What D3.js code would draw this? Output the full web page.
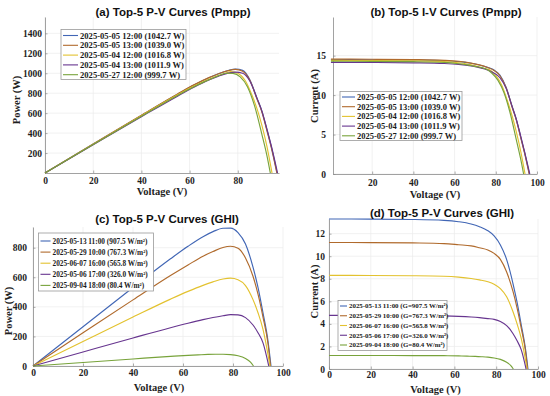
<!DOCTYPE html>
<html>
<head>
<meta charset="utf-8">
<script src="https://cdn.jsdelivr.net/npm/d3@7"></script>
<style>
  body { margin: 0; background: #fff; }
  svg { display: block; }
</style>
</head>
<body>
<svg id="chart" width="550" height="396"></svg>
<script>
// Top-5 curves by Pmpp (panels a, b)
const pmppLabels = [
    "2025-05-05 12:00 (1042.7 W)",
    "2025-05-05 13:00 (1039.0 W)",
    "2025-05-04 12:00 (1016.8 W)",
    "2025-05-04 13:00 (1011.9 W)",
    "2025-05-27 12:00 (999.7 W)"
];
const pmppVoltage = [
    [0, 20, 40, 55, 62, 68, 72, 76, 79, 82, 85, 88, 90, 92, 94, 96.3],
    [0, 20, 40, 55, 62, 68, 72, 76, 79, 82, 85, 88, 90, 92, 94, 96.2],
    [0, 20, 40, 55, 62, 66, 70, 74, 77, 80, 83, 86, 88, 90, 92, 94.2],
    [0, 20, 40, 55, 62, 68, 72, 76, 79, 82, 85, 88, 90, 92, 94, 96.5],
    [0, 20, 40, 55, 62, 66, 70, 73, 75, 78, 81, 84, 87, 90, 92, 93.5]
];
const pmppPower = [
    [0, 289.6, 577.6, 789.8, 883.5, 954.7, 995.0, 1027.5, 1042.8, 1029.1, 935.0, 748.0, 621.0, 441.6, 253.8, 0],
    [0, 290.8, 580.0, 792.6, 886.0, 956.1, 995.8, 1026.0, 1038.9, 1020.9, 930.8, 739.2, 612.0, 432.4, 244.4, 0],
    [0, 287.6, 573.6, 783.8, 874.2, 920.7, 960.4, 991.6, 1016.4, 1000.0, 929.6, 774.0, 642.4, 477.0, 276.0, 0],
    [0, 282.6, 563.6, 770.6, 861.8, 931.6, 970.6, 1001.7, 1012.0, 1000.4, 922.3, 748.0, 621.0, 450.8, 263.2, 0],
    [0, 285.6, 569.6, 777.7, 866.8, 913.4, 954.8, 985.5, 999.8, 998.4, 963.9, 865.2, 669.9, 387.0, 184.0, 0]
];
const pmppCurrent = [
    [14.50, 14.48, 14.44, 14.36, 14.25, 14.04, 13.82, 13.52, 13.20, 12.55, 11.00, 8.50, 6.90, 4.80, 2.70, 0],
    [14.56, 14.54, 14.50, 14.41, 14.29, 14.06, 13.83, 13.50, 13.15, 12.45, 10.95, 8.40, 6.80, 4.70, 2.60, 0],
    [14.40, 14.38, 14.34, 14.25, 14.10, 13.95, 13.72, 13.40, 13.20, 12.50, 11.20, 9.00, 7.30, 5.30, 3.00, 0],
    [14.15, 14.13, 14.09, 14.01, 13.90, 13.70, 13.48, 13.18, 12.81, 12.20, 10.85, 8.50, 6.90, 4.90, 2.80, 0],
    [14.30, 14.28, 14.24, 14.14, 13.98, 13.84, 13.64, 13.50, 13.33, 12.80, 11.90, 10.30, 7.70, 4.30, 2.00, 0]
];

// Top-5 curves by GHI (panels c, d)
const ghiLabels = [
    "2025-05-13 11:00 (907.5 W/m²)",
    "2025-05-29 10:00 (767.3 W/m²)",
    "2025-06-07 16:00 (565.8 W/m²)",
    "2025-05-06 17:00 (326.0 W/m²)",
    "2025-09-04 18:00 (80.4 W/m²)"
];
const ghiLabelsG = [
    "2025-05-13 11:00 (G=907.5 W/m²)",
    "2025-05-29 10:00 (G=767.3 W/m²)",
    "2025-06-07 16:00 (G=565.8 W/m²)",
    "2025-05-06 17:00 (G=326.0 W/m²)",
    "2025-09-04 18:00 (G=80.4 W/m²)"
];
const ghiVoltage = [
    [0, 20, 40, 55, 62, 68, 72, 76, 79, 82, 85, 88, 90, 92, 94, 95.2],
    [0, 20, 40, 55, 62, 68, 72, 76, 79, 82, 85, 88, 90, 92, 94, 95.0],
    [0, 20, 40, 55, 62, 68, 72, 76, 79, 82, 85, 88, 90, 92, 94.8],
    [0, 20, 40, 55, 62, 68, 72, 76, 79, 82, 85, 88, 90, 92, 94.3],
    [0, 20, 40, 55, 62, 66, 70, 73, 76, 79, 82, 85, 87, 88.2]
];
const ghiPower = [
    [0, 265.8, 530.4, 724.9, 809.7, 874.5, 908.6, 931.8, 932.2, 902.0, 824.5, 668.8, 531.0, 358.8, 169.2, 0],
    [0, 224.2, 447.2, 611.6, 683.2, 742.6, 774.0, 801.8, 809.8, 797.0, 731.0, 607.2, 486.0, 331.2, 150.4, 0],
    [0, 165.8, 330.8, 452.1, 504.7, 545.4, 568.8, 588.2, 594.1, 583.8, 544.0, 448.8, 360.0, 248.4, 0],
    [0, 95.0, 189.6, 259.1, 289.5, 313.5, 327.6, 339.7, 347.6, 346.0, 327.3, 277.2, 225.0, 156.4, 0],
    [0, 24.0, 47.6, 64.9, 71.9, 75.2, 78.4, 79.6, 79.8, 77.4, 69.7, 51.0, 26.1, 0]
];
const ghiCurrent = [
    [13.30, 13.29, 13.26, 13.18, 13.06, 12.86, 12.62, 12.26, 11.80, 11.00, 9.70, 7.60, 5.90, 3.90, 1.80, 0],
    [11.22, 11.21, 11.18, 11.12, 11.02, 10.92, 10.75, 10.55, 10.25, 9.72, 8.60, 6.90, 5.40, 3.60, 1.60, 0],
    [8.30, 8.29, 8.27, 8.22, 8.14, 8.02, 7.90, 7.74, 7.52, 7.12, 6.40, 5.10, 4.00, 2.70, 0],
    [4.76, 4.75, 4.74, 4.71, 4.67, 4.61, 4.55, 4.47, 4.40, 4.22, 3.85, 3.15, 2.50, 1.70, 0],
    [1.20, 1.20, 1.19, 1.18, 1.16, 1.14, 1.12, 1.09, 1.05, 0.98, 0.85, 0.60, 0.30, 0]
];

// tick values
const ticksVoltA = [0, 20, 40, 60, 80];
const ticksVoltB = [20, 40, 60, 80, 100];
const ticksVoltCD = [0, 20, 40, 60, 80, 100];
const ticksPowerA = [200, 400, 600, 800, 1000, 1200, 1400];
const ticksCurrentB = [0, 5, 10, 15];
const ticksPowerC = [0, 200, 400, 600, 800];
const ticksCurrentD = [0, 2, 4, 6, 8, 10, 12];

const colors = ["#4166b5", "#b06a2c", "#e3c22f", "#67358f", "#78a33b"];
const serif = "'Liberation Serif', 'Times New Roman', serif";
const sans = "'Liberation Sans', Arial, sans-serif";

const svg = d3.select("#chart");

function drawPanel(p) {
    const g = svg.append("g");
    const x = d3.scaleLinear().domain(p.xDomain).range(p.xRange);
    const y = d3.scaleLinear().domain(p.yDomain).range(p.yRange);

    // grid
    g.append("g").selectAll("line").data(p.xTicks).join("line")
        .attr("x1", d => x(d)).attr("x2", d => x(d))
        .attr("y1", p.yRange[0]).attr("y2", p.yRange[1])
        .attr("stroke", "#ebebeb").attr("stroke-width", 0.7);
    g.append("g").selectAll("line").data(p.yTicks).join("line")
        .attr("x1", p.xRange[0]).attr("x2", p.xRange[1])
        .attr("y1", d => y(d)).attr("y2", d => y(d))
        .attr("stroke", "#ebebeb").attr("stroke-width", 0.7);

    const xAxis = d3.axisBottom(x).tickValues(p.xTicks).tickFormat(d3.format("d"))
        .tickSizeInner(-2.5).tickSizeOuter(0).tickPadding(p.xPad);
    const yAxis = d3.axisLeft(y).tickValues(p.yTicks).tickFormat(d3.format("d"))
        .tickSizeInner(-2.5).tickSizeOuter(0).tickPadding(p.yPad);

    const xg = g.append("g").attr("transform", `translate(0,${p.yRange[0]})`).call(xAxis);
    const yg = g.append("g").attr("transform", `translate(${p.xRange[0]},0)`).call(yAxis);
    [xg, yg].forEach(a => {
        a.attr("font-family", serif).attr("font-size", 9);
        a.select(".domain").attr("stroke", "#8a8a8a").attr("stroke-width", 0.8);
        a.selectAll(".tick line").attr("stroke", "#8a8a8a").attr("stroke-width", 0.7);
        a.selectAll(".tick text")
            .attr("fill", "#1e1e1e")
            .style("font-family", serif)
            .style("font-weight", "bold")
            .style("font-size", "9.5px");
    });

    // curves
    const line = d3.line().curve(d3.curveMonotoneX)
        .x(d => x(d[0])).y(d => y(d[1]));
    p.volts.forEach((vs, i) => {
        const pts = vs.map((v, j) => [v, p.values[i][j]]);
        g.append("path")
            .datum(pts)
            .attr("d", line)
            .attr("fill", "none")
            .attr("stroke", colors[i])
            .attr("stroke-width", 1.15);
    });

    // title and labels
    g.append("text")
        .attr("x", p.title[1]).attr("y", p.title[2])
        .attr("text-anchor", "middle")
        .style("font-family", sans).style("font-weight", "bold").style("font-size", "11.5px")
        .attr("fill", "#111")
        .text(p.title[0]);
    g.append("text")
        .attr("x", p.xLabel[1]).attr("y", p.xLabel[2])
        .attr("text-anchor", "middle")
        .style("font-family", serif).style("font-weight", "bold").style("font-size", "10.5px")
        .attr("fill", "#1e1e1e")
        .text(p.xLabel[0]);
    g.append("text")
        .attr("transform", `translate(${p.yLabel[1]},${p.yLabel[2]}) rotate(-90)`)
        .attr("text-anchor", "middle")
        .attr("dy", "0.35em")
        .style("font-family", serif).style("font-weight", "bold").style("font-size", "10.5px")
        .attr("fill", "#1e1e1e")
        .text(p.yLabel[0]);

    // legend
    const L = p.legend;
    const lg = g.append("g");
    lg.append("rect")
        .attr("x", L.x).attr("y", L.y).attr("width", L.w).attr("height", L.h)
        .attr("fill", "#fff").attr("stroke", "#9a9a9a").attr("stroke-width", 0.8);
    p.labels.forEach((lab, i) => {
        const cy = L.row0 + i * L.step;
        lg.append("line")
            .attr("x1", L.x + 2).attr("x2", L.x + 2 + L.lineLen)
            .attr("y1", cy).attr("y2", cy)
            .attr("stroke", colors[i]).attr("stroke-width", 1.1);
        lg.append("text")
            .attr("x", L.x + 4 + L.lineLen).attr("y", cy)
            .attr("dy", "0.35em")
            .style("font-family", serif).style("font-weight", "bold").style("font-size", L.font + "px")
            .attr("fill", "#1a1a1a")
            .text(lab);
    });
}

drawPanel({
    xDomain: [0, 97.1], xRange: [45, 279],
    yDomain: [0, 1564], yRange: [173, 17],
    xTicks: ticksVoltA, yTicks: ticksPowerA, xPad: 4.5, yPad: 3,
    volts: pmppVoltage, values: pmppPower, labels: pmppLabels,
    title: ["(a) Top-5 P-V Curves (Pmpp)", 173, 15.5],
    xLabel: ["Voltage (V)", 162, 194.5],
    yLabel: ["Power (W)", 16, 100],
    legend: { x: 61, y: 29.5, w: 125, h: 50, row0: 35.5, step: 9.8, lineLen: 15, font: 8.6 }
});

drawPanel({
    xDomain: [1, 100], xRange: [333, 537],
    yDomain: [0, 19.9], yRange: [174, 17],
    xTicks: ticksVoltB, yTicks: ticksCurrentB, xPad: 5.5, yPad: 7,
    volts: pmppVoltage, values: pmppCurrent, labels: pmppLabels,
    title: ["(b) Top-5 I-V Curves (Pmpp)", 446, 15.5],
    xLabel: ["Voltage (V)", 435, 197.5],
    yLabel: ["Current (A)", 314, 96],
    legend: { x: 340, y: 91.5, w: 122, h: 49, row0: 97, step: 9.7, lineLen: 13, font: 8.5 }
});

drawPanel({
    xDomain: [0, 100], xRange: [33, 283],
    yDomain: [0, 940], yRange: [366, 227],
    xTicks: ticksVoltCD, yTicks: ticksPowerC, xPad: 3.5, yPad: 6,
    volts: ghiVoltage, values: ghiPower, labels: ghiLabels,
    title: ["(c) Top-5 P-V Curves (GHI)", 167, 223],
    xLabel: ["Voltage (V)", 159, 391],
    yLabel: ["Power (W)", 8.5, 311],
    legend: { x: 38.5, y: 233, w: 115, h: 58, row0: 241, step: 11.1, lineLen: 10, font: 7.3 }
});

drawPanel({
    xDomain: [0, 100], xRange: [329, 538],
    yDomain: [0, 13.3], yRange: [369, 219],
    xTicks: ticksVoltCD, yTicks: ticksCurrentD, xPad: 2.5, yPad: 4,
    volts: ghiVoltage, values: ghiCurrent, labels: ghiLabelsG,
    title: ["(d) Top-5 P-V Curves (GHI)", 442, 216.5],
    xLabel: ["Voltage (V)", 435.5, 392.5],
    yLabel: ["Current (A)", 314, 291.5],
    legend: { x: 338, y: 300.5, w: 109, h: 50, row0: 306, step: 9.75, lineLen: 7, font: 6.9 }
});
</script>
</body>
</html>
